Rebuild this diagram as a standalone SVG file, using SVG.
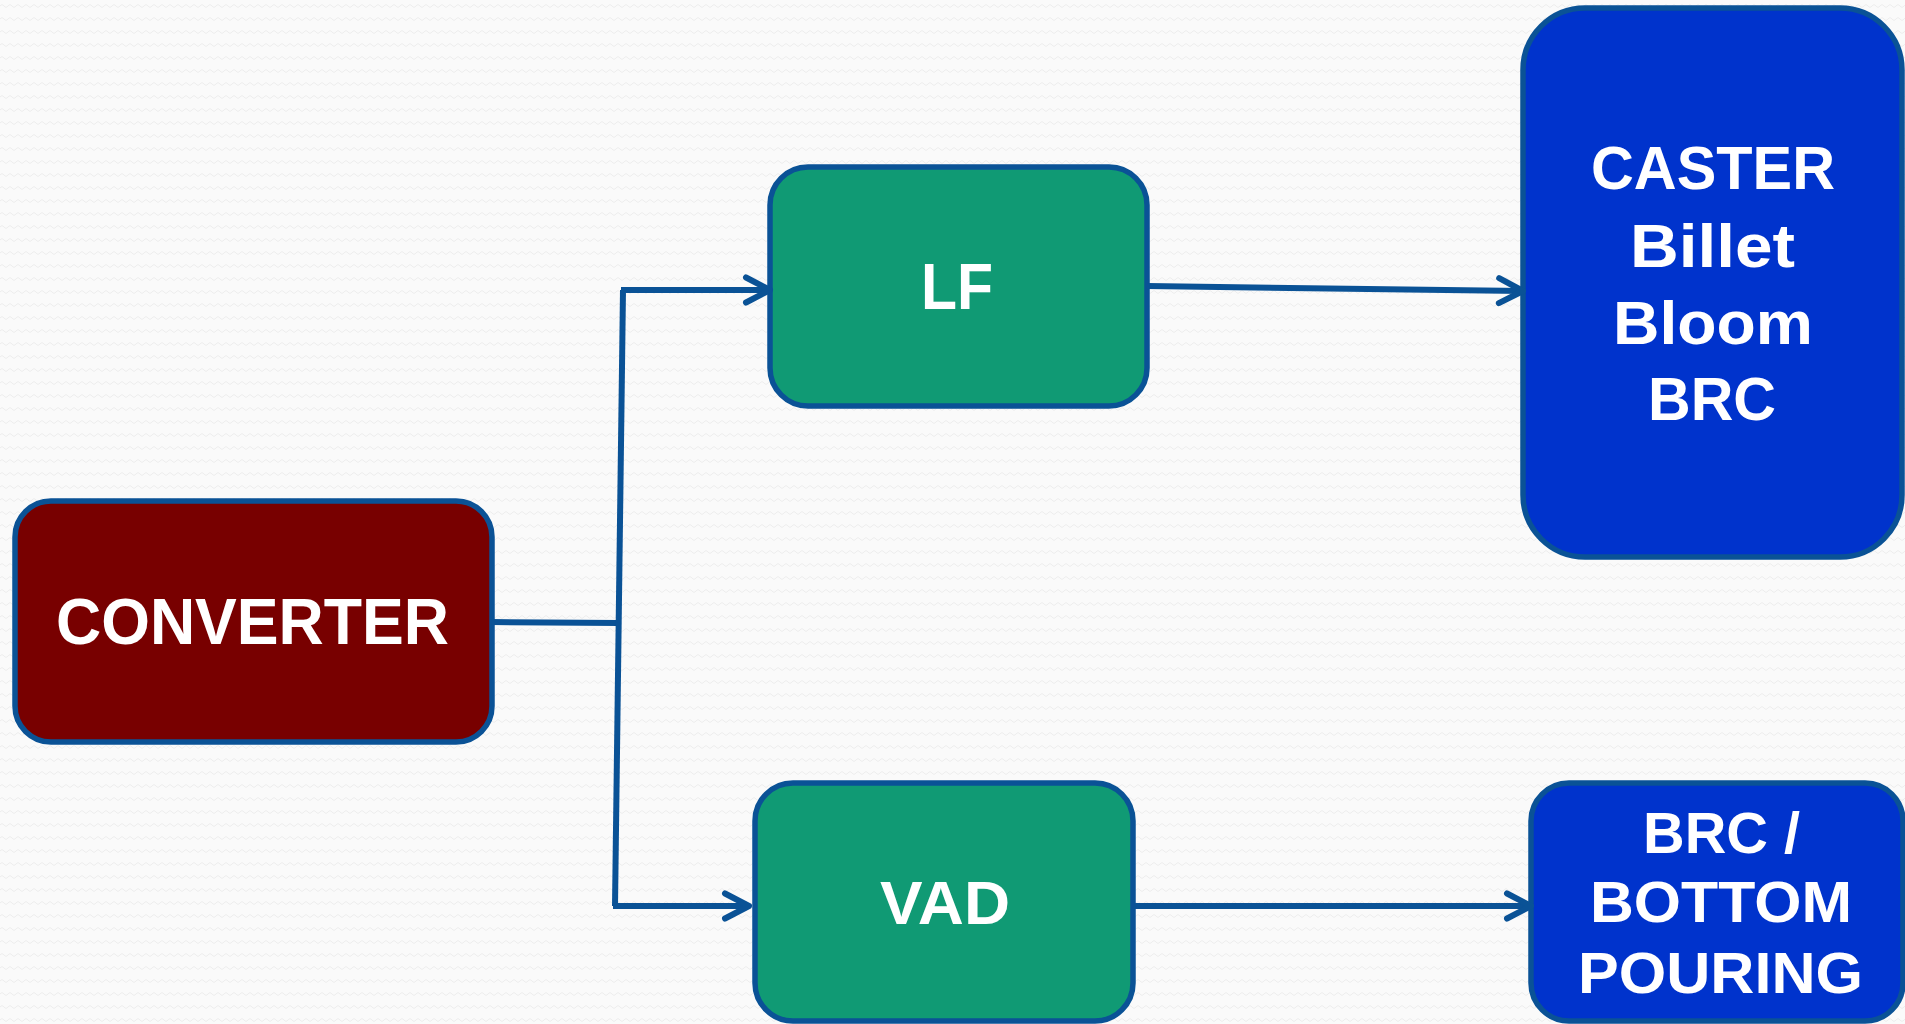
<svg xmlns="http://www.w3.org/2000/svg" width="1905" height="1024" viewBox="0 0 1905 1024">
  <defs>
    <pattern id="wave" width="8" height="13" patternUnits="userSpaceOnUse">
      <path d="M0,6 Q2,3 4,6 T8,6" fill="none" stroke="#ededed" stroke-width="1"/>
    </pattern>
    <marker id="arrow" markerUnits="userSpaceOnUse" markerWidth="40" markerHeight="40" viewBox="-30 -20 40 40" refX="0" refY="0" orient="auto" overflow="visible">
      <path d="M-24,-12.5 L0,0 L-24,12.5" fill="none" stroke="#0A5296" stroke-width="6" stroke-linecap="round" stroke-linejoin="round"/>
    </marker>
    <style>
      .box { stroke: #0A5296; stroke-width: 5.5; }
      .red { fill: #780000; }
      .green { fill: #109A74; }
      .blue { fill: #0033CC; }
      .label { fill: #ffffff; font-family: "Liberation Sans", Arial, sans-serif; font-weight: bold; }
      .link { fill: none; stroke: #0A5296; stroke-width: 6; }
    </style>
  </defs>

  <!-- page background -->
  <rect width="1905" height="1024" fill="#fafafa"/>
  <rect width="1905" height="1024" fill="url(#wave)"/>

  <g id="converter">
    <rect class="box red" x="15" y="501" width="477" height="241" rx="36"/>
    <text class="label" x="56" y="644" font-size="64" textLength="393" lengthAdjust="spacingAndGlyphs">CONVERTER</text>
  </g>

  <g id="lf">
    <rect class="box green" x="770" y="167" width="377" height="239" rx="38"/>
    <text class="label" x="921" y="309" font-size="64" textLength="72" lengthAdjust="spacingAndGlyphs">LF</text>
  </g>

  <g id="vad">
    <rect class="box green" x="755" y="783" width="378" height="238" rx="38"/>
    <text class="label" x="880" y="924" font-size="62" textLength="130" lengthAdjust="spacingAndGlyphs">VAD</text>
  </g>

  <g id="caster">
    <rect class="box blue" x="1523" y="8" width="379" height="549" rx="62"/>
    <text class="label" x="1591" y="189" font-size="61" textLength="244" lengthAdjust="spacingAndGlyphs">CASTER</text>
    <text class="label" x="1630" y="267" font-size="61" textLength="165" lengthAdjust="spacingAndGlyphs">Billet</text>
    <text class="label" x="1613" y="344" font-size="61" textLength="200" lengthAdjust="spacingAndGlyphs">Bloom</text>
    <text class="label" x="1648" y="420" font-size="61" textLength="128" lengthAdjust="spacingAndGlyphs">BRC</text>
  </g>

  <g id="brc-bottom-pouring">
    <rect class="box blue" x="1531" y="783" width="372" height="238" rx="38"/>
    <text class="label" x="1643" y="853" font-size="58" textLength="157" lengthAdjust="spacingAndGlyphs">BRC /</text>
    <text class="label" x="1590" y="922" font-size="58" textLength="262" lengthAdjust="spacingAndGlyphs">BOTTOM</text>
    <text class="label" x="1578" y="993" font-size="58" textLength="285" lengthAdjust="spacingAndGlyphs">POURING</text>
  </g>

  <g id="connectors">
    <path class="link" d="M492,622 L619,623"/>
    <path class="link" d="M623,290 L615,906"/>
    <path class="link" d="M621,290 L770,290" marker-end="url(#arrow)"/>
    <path class="link" d="M613,906 L749,906" marker-end="url(#arrow)"/>
    <path class="link" d="M1147,286 L1523,291" marker-end="url(#arrow)"/>
    <path class="link" d="M1133,906 L1531,906" marker-end="url(#arrow)"/>
  </g>
</svg>
